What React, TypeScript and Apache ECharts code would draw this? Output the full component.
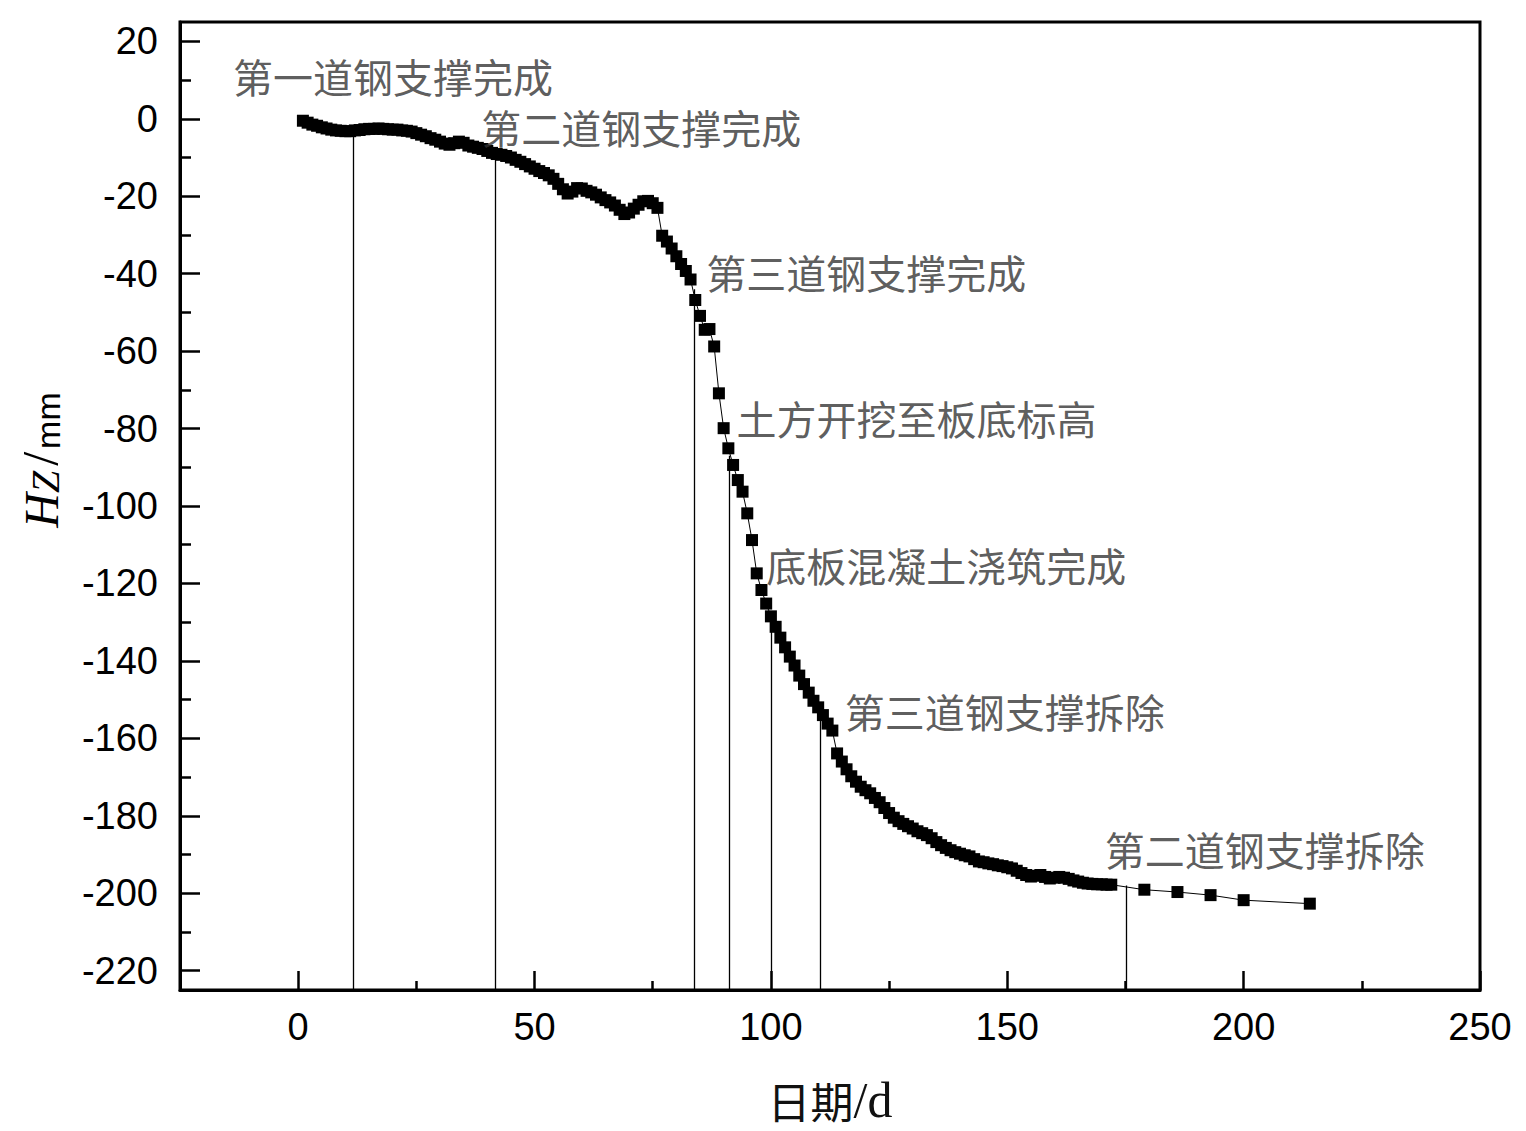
import React, { useEffect, useRef } from "react";
import * as echarts from "echarts";

// ---- data ----
const days: number[] = [
  1, 2, 3, 4, 5, 6, 7, 8, 9, 10, 11, 12, 13, 14, 15, 16, 17, 18, 19, 20,
  21, 22, 23, 24, 25, 26, 27, 28, 29, 30, 31, 32, 33, 34, 35, 36, 37, 38, 39, 40,
  41, 42, 43, 44, 45, 46, 47, 48, 49, 50, 51, 52, 53, 54, 55, 56, 57, 58, 59, 60,
  61, 62, 63, 64, 65, 66, 67, 68, 69, 70, 71, 72, 73, 74, 75, 76, 77, 78, 79, 80,
  81, 82, 83, 84, 85, 86, 87, 88, 89, 90, 91, 92, 93, 94, 95, 96, 97, 98, 99, 100,
  101, 102, 103, 104, 105, 106, 107, 108, 109, 110, 111, 112, 113, 114, 115, 116, 117, 118, 119, 120,
  121, 122, 123, 124, 125, 126, 127, 128, 129, 130, 131, 132, 133, 134, 135, 136, 137, 138, 139, 140,
  141, 142, 143, 144, 145, 146, 147, 148, 149, 150, 151, 152, 153, 154, 155, 156, 157, 158, 159, 160,
  161, 162, 163, 164, 165, 166, 167, 168, 169, 170, 171, 172, 179, 186, 193, 200, 214,
];
const hz: number[] = [
  -0.5, -1.0, -1.5, -1.8, -2.2, -2.5, -2.8, -3.0, -3.1, -3.2, -3.2, -3.0, -2.9, -2.7, -2.6, -2.6, -2.5, -2.6, -2.7, -2.8,
  -2.8, -3.0, -3.1, -3.3, -3.7, -4.1, -4.5, -5.0, -5.4, -5.9, -6.4, -6.7, -6.3, -5.9, -6.2, -6.9, -7.2, -7.5, -7.8, -8.3,
  -8.8, -9.1, -9.3, -9.6, -10.0, -10.6, -11.1, -11.7, -12.3, -12.9, -13.5, -14.0, -14.6, -15.5, -16.8, -18.2, -19.3, -18.8, -17.9, -18.0,
  -18.6, -19.0, -19.6, -20.3, -21.0, -21.6, -22.4, -23.5, -24.6, -24.2, -23.2, -22.2, -21.3, -21.2, -21.8, -23.0, -30.2, -31.7, -33.5, -35.5,
  -37.5, -39.3, -41.5, -46.8, -50.9, -54.5, -54.3, -58.8, -70.9, -79.9, -85.1, -89.4, -93.3, -96.3, -101.9, -108.8, -117.4, -121.7, -125.2, -128.5,
  -131.2, -134.0, -136.5, -138.9, -141.2, -143.8, -146.0, -148.2, -150.3, -152.0, -154.0, -156.2, -158.0, -163.9, -166.0, -168.0, -169.8, -171.2, -172.5, -173.4,
  -174.2, -175.4, -176.5, -178.0, -179.3, -180.5, -181.4, -182.1, -182.7, -183.3, -184.0, -184.5, -185.0, -185.8, -186.8, -187.6, -188.3, -188.9, -189.4, -189.8,
  -190.2, -190.5, -191.2, -191.8, -192.0, -192.3, -192.5, -192.8, -193.0, -193.3, -193.6, -194.2, -194.8, -195.3, -195.7, -195.5, -195.3, -195.8, -196.2, -196.0,
  -195.8, -196.0, -196.3, -196.7, -197.0, -197.3, -197.5, -197.6, -197.7, -197.7, -197.8, -197.8, -199.1, -199.7, -200.5, -201.8, -202.7,
];

// construction events
const eventNames: string[] = [
  "第一道钢支撑完成",
  "第二道钢支撑完成",
  "第三道钢支撑完成",
  "土方开挖至板底标高",
  "底板混凝土浇筑完成",
  "第三道钢支撑拆除",
  "第二道钢支撑拆除",
];
const eventDay: number[] = [11.6, 41.6, 83.8, 91.2, 100, 110.4, 175.2];
const eventTop: number[] = [-3.2, -9.0, -44, -87, -128, -154, -198];
const labelX: number[] = [-13.9, 38.6, 86.2, 92.6, 98.9, 115.5, 170.5];
const labelY: number[] = [11.1, -2.1, -39.5, -77.3, -115.2, -153, -188.6];

// axes
const xRange: number[] = [-25, 250];
const yRange: number[] = [-225, 25];
const xMajor: number[] = [0, 50, 100, 150, 200, 250];
const xMinor: number[] = [25, 75, 125, 175, 225];
const yMajor: number[] = [-220, -200, -180, -160, -140, -120, -100, -80, -60, -40, -20, 0, 20];
const yMinor: number[] = [-210, -190, -170, -150, -130, -110, -90, -70, -50, -30, -10, 10];

const NUM_FONT = "'Liberation Sans', Arial, sans-serif";
const CJK_FONT = "'Noto Sans CJK SC', sans-serif";
const SERIF = "'Liberation Serif', 'Times New Roman', serif";

export default function App() {
  const ref = useRef<HTMLDivElement>(null);

  useEffect(() => {
    if (!ref.current) return;
    const chart = echarts.init(ref.current, null, { renderer: "svg" });

    const mainData = days.map((d, i) => [d, hz[i]]);
    const eventLines = eventDay.map((d, i) => ({
      coords: [
        [d, eventTop[i]],
        [d, yRange[0]],
      ],
    }));
    const labelData = eventNames.map((n, i) => ({ name: n, value: [labelX[i], labelY[i]] }));

    const axisLine = { show: true, onZero: false, lineStyle: { color: "#000", width: 3 } };
    const hiddenLine = { show: false, onZero: false };

    chart.setOption({
      animation: false,
      backgroundColor: "#fff",
      grid: {
        left: 180,
        right: 46,
        top: 22,
        bottom: 141,
        show: true,
        borderColor: "#000",
        borderWidth: 3,
        backgroundColor: "transparent",
      },
      xAxis: [
        {
          type: "value",
          min: xRange[0],
          max: xRange[1],
          position: "bottom",
          axisLine,
          splitLine: { show: false },
          axisTick: {
            show: true,
            inside: true,
            length: 19,
            customValues: xMajor,
            lineStyle: { color: "#000", width: 2.5 },
          },
          axisLabel: {
            show: true,
            customValues: xMajor,
            margin: 18,
            color: "#000",
            fontSize: 38,
            fontFamily: NUM_FONT,
          },
          name: "{c|日期}{s|/d}",
          nameLocation: "middle",
          nameGap: 86,
          nameTextStyle: {
            lineHeight: 48,
            rich: {
              c: { fontFamily: CJK_FONT, fontSize: 43, color: "#111", lineHeight: 48 },
              s: { fontFamily: SERIF, fontSize: 50, color: "#111", lineHeight: 48 },
            },
          },
        },
        {
          type: "value",
          min: xRange[0],
          max: xRange[1],
          position: "bottom",
          axisLine: hiddenLine,
          splitLine: { show: false },
          axisLabel: { show: false },
          axisTick: {
            show: true,
            inside: true,
            length: 9,
            customValues: xMinor,
            lineStyle: { color: "#000", width: 2.5 },
          },
        },
      ],
      yAxis: [
        {
          type: "value",
          min: yRange[0],
          max: yRange[1],
          position: "left",
          axisLine,
          splitLine: { show: false },
          axisTick: {
            show: true,
            inside: true,
            length: 20,
            customValues: yMajor,
            lineStyle: { color: "#000", width: 2.5 },
          },
          axisLabel: {
            show: true,
            customValues: yMajor,
            margin: 22,
            color: "#000",
            fontSize: 38,
            fontFamily: NUM_FONT,
          },
        },
        {
          type: "value",
          min: yRange[0],
          max: yRange[1],
          position: "left",
          axisLine: hiddenLine,
          splitLine: { show: false },
          axisLabel: { show: false },
          axisTick: {
            show: true,
            inside: true,
            length: 11,
            customValues: yMinor,
            lineStyle: { color: "#000", width: 2.5 },
          },
        },
      ],
      graphic: [
        {
          type: "text",
          x: 40,
          y: 460,
          rotation: Math.PI / 2,
          style: {
            text: "{h|H}{z|Z}{s|/}{m|mm}",
            align: "center",
            verticalAlign: "middle",
            rich: {
              h: { fontFamily: SERIF, fontStyle: "italic", fontSize: 48, fill: "#000", verticalAlign: "bottom" },
              z: { fontFamily: SERIF, fontStyle: "italic", fontSize: 40, fill: "#000", verticalAlign: "bottom" },
              s: { fontFamily: SERIF, fontSize: 50, fill: "#000", verticalAlign: "bottom", padding: [0, 3, 0, 5] },
              m: { fontFamily: NUM_FONT, fontSize: 34, fill: "#000", verticalAlign: "bottom" },
            },
          },
        },
      ],
      series: [
        {
          type: "lines",
          coordinateSystem: "cartesian2d",
          xAxisIndex: 0,
          yAxisIndex: 0,
          z: 1,
          silent: true,
          lineStyle: { color: "#000", width: 1.3, opacity: 1 },
          data: eventLines,
        },
        {
          type: "line",
          xAxisIndex: 0,
          yAxisIndex: 0,
          z: 2,
          data: mainData,
          symbol: "rect",
          symbolSize: 12,
          showAllSymbol: true,
          itemStyle: { color: "#000" },
          lineStyle: { color: "#000", width: 1 },
        },
        {
          type: "scatter",
          xAxisIndex: 0,
          yAxisIndex: 0,
          z: 3,
          silent: true,
          symbolSize: 1,
          itemStyle: { color: "rgba(0,0,0,0)" },
          data: labelData,
          label: {
            show: true,
            position: "right",
            distance: 0,
            formatter: (p: any) => p.name,
            fontFamily: CJK_FONT,
            fontSize: 40,
            color: "#333",
          },
        },
      ],
    });

    return () => chart.dispose();
  }, []);

  return (
    <div
      ref={ref}
      style={{ position: "fixed", left: 0, top: 0, width: 1526, height: 1131, background: "#fff" }}
    />
  );
}
